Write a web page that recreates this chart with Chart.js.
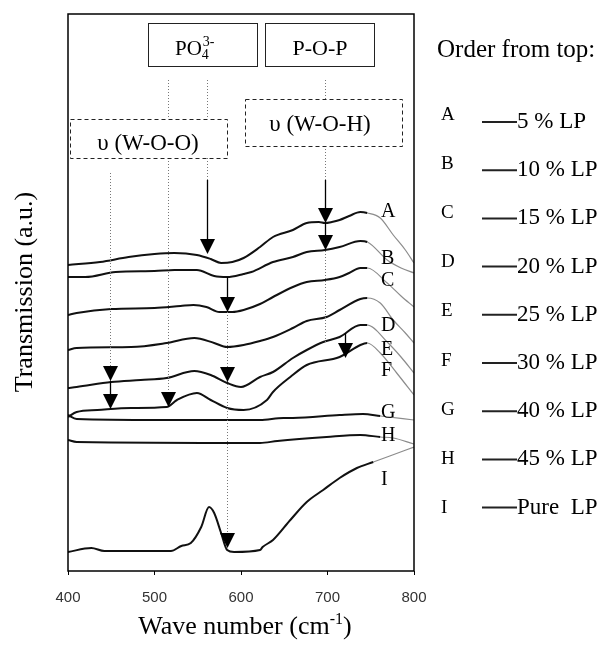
<!DOCTYPE html>
<html>
<head>
<meta charset="utf-8">
<script src="https://cdn.jsdelivr.net/npm/chart.js@4"></script>
<style>
  body { margin: 0; background: #fff; }
  canvas { display: block; }
</style>
</head>
<body>
<canvas id="irChart" width="603" height="646"></canvas>
<script>
// FT-IR transmission spectra, [wave number, transmission (a.u.)]
const curveA = [[400,30.6],[437,30.9],[470,31.4],[500,31.7],[523,31.8],[549,31.6],[565,31.2],[577,30.8],[590,30.9],[603,31.3],[622,32.4],[637,33.4],[660,34.1],[676,34.8],[690,34.9],[697,34.8],[705,34.9],[714,35.1],[725,35.5],[738,35.9],[746,35.8],[761,35.3],[776,33.6],[790,32.1],[800,30.8]];
const curveB = [[400,29.4],[420,29.4],[455,29.9],[500,30.0],[523,30.1],[549,30.1],[569,29.5],[584,29.4],[603,29.7],[612,29.9],[637,30.9],[660,31.4],[676,31.9],[697,32.1],[714,32.4],[738,33.0],[746,32.9],[769,31.1],[785,30.3],[800,29.8]];
const curveC = [[400,25.6],[410,25.8],[450,26.2],[500,26.3],[530,26.5],[545,26.6],[560,26.4],[575,25.9],[590,25.9],[603,26.1],[622,26.7],[637,27.4],[660,28.4],[676,28.9],[697,29.1],[714,29.4],[725,29.8],[738,30.3],[746,30.3],[769,28.8],[785,27.5],[800,26.4]];
const curveD = [[400,22.1],[410,22.3],[473,22.4],[514,22.8],[546,23.3],[569,22.8],[584,22.4],[603,22.6],[622,23.0],[637,23.4],[660,24.3],[676,25.0],[699,25.4],[714,26.1],[738,27.2],[746,27.3],[761,26.8],[776,25.1],[790,23.8],[800,22.8]];
const curveE = [[400,18.3],[410,18.4],[450,18.9],[484,19.1],[514,19.3],[546,20.0],[565,19.6],[584,18.8],[600,18.4],[622,19.4],[637,19.9],[660,21.3],[676,22.1],[695,22.9],[714,23.4],[738,24.6],[746,24.6],[769,22.9],[785,21.4],[800,19.8]];
const curveF = [[400,15.4],[410,15.9],[434,16.1],[473,16.3],[514,16.4],[526,17.1],[549,17.8],[565,17.1],[584,16.3],[603,16.1],[630,17.1],[637,17.9],[657,19.4],[676,20.6],[714,21.4],[738,22.6],[746,22.8],[761,21.8],[780,19.8],[800,17.6]];
const curveG = [[400,15.6],[410,15.2],[506,15.1],[622,15.1],[649,15.3],[660,15.3],[714,15.6],[741,15.7],[761,15.5],[800,15.1]];
const curveH = [[400,13.1],[410,12.9],[622,12.8],[642,13.0],[699,13.4],[738,13.6],[761,13.4],[776,13.3],[800,12.7]];
const curveI = [[400,1.9],[427,2.3],[442,2.0],[519,2.0],[531,2.5],[542,2.8],[554,4.4],[563,6.4],[569,5.8],[577,3.8],[584,2.1],[592,1.9],[622,2.1],[625,2.4],[637,3.1],[657,5.1],[676,6.9],[695,8.1],[714,9.3],[734,10.3],[753,10.9],[772,11.5],[800,12.4]];

const curveLetters = ['A', 'B', 'C', 'D', 'E', 'F', 'G', 'H', 'I'];
const curveContent = ['5 % LP', '10 % LP', '15 % LP', '20 % LP', '25 % LP', '30 % LP', '40 % LP', '45 % LP', 'Pure  LP'];
const curveLetterY = [35.9, 31.2, 29.0, 24.5, 22.1, 20.0, 15.8, 13.5, 9.1];
const waveTicks = [400, 500, 600, 700, 800];

// band-assignment arrows: wave number, tip and tail (a.u.)
const arrowWave = [561, 697, 697, 584, 720, 584, 449, 449, 516, 584];
const arrowTip  = [31.7, 34.8, 32.1, 25.9, 21.3, 18.9, 19.0, 16.2, 16.4, 2.3];
const arrowTail = [39.1, 39.1, 34.8, 29.4, 23.8, 18.9, 19.0, 19.0, 16.4, 2.3];
// dotted guide lines: wave number, top and bottom (a.u.)
const guideWave   = [449, 516, 561, 584, 697];
const guideTop    = [39.8, 49.1, 49.1, 25.9, 49.1];
const guideBottom = [19.0, 16.4, 39.1, 2.3, 22.9];

const serif = '"Liberation Serif", "Times New Roman", serif';
const series = [curveA, curveB, curveC, curveD, curveE, curveF, curveG, curveH, curveI];

const extras = {
  id: 'extras',
  afterDatasetsDraw(chart) {
    const { ctx, chartArea: a, scales: { x, y } } = chart;
    ctx.save();

    // frame
    ctx.strokeStyle = '#000';
    ctx.lineWidth = 1.5;
    ctx.strokeRect(a.left, a.top, a.right - a.left, a.bottom - a.top);

    // guides
    ctx.strokeStyle = '#777';
    ctx.lineWidth = 1;
    ctx.setLineDash([1, 2]);
    guideWave.forEach((w, i) => {
      const px = Math.round(x.getPixelForValue(w)) + 0.5;
      ctx.beginPath();
      ctx.moveTo(px, y.getPixelForValue(guideTop[i]));
      ctx.lineTo(px, y.getPixelForValue(guideBottom[i]));
      ctx.stroke();
    });
    ctx.setLineDash([]);

    // arrows
    ctx.strokeStyle = '#000';
    ctx.fillStyle = '#000';
    ctx.lineWidth = 1.3;
    arrowWave.forEach((w, i) => {
      const px = Math.round(x.getPixelForValue(w)) + 0.5;
      const tip = y.getPixelForValue(arrowTip[i]);
      const tail = y.getPixelForValue(arrowTail[i]);
      if (tip - tail > 15) {
        ctx.beginPath();
        ctx.moveTo(px, tail);
        ctx.lineTo(px, tip - 14);
        ctx.stroke();
      }
      ctx.beginPath();
      ctx.moveTo(px, tip);
      ctx.lineTo(px - 7.5, tip - 15);
      ctx.lineTo(px + 7.5, tip - 15);
      ctx.closePath();
      ctx.fill();
    });

    // label boxes
    ctx.lineWidth = 1;
    ctx.strokeStyle = '#222';
    ctx.fillStyle = '#fff';
    ctx.fillRect(148, 23, 109, 43);
    ctx.strokeRect(148.5, 23.5, 109, 43);
    ctx.fillRect(265, 23, 109, 43);
    ctx.strokeRect(265.5, 23.5, 109, 43);
    ctx.setLineDash([4, 3]);
    ctx.fillRect(70, 119, 157, 39);
    ctx.strokeRect(70.5, 119.5, 157, 39);
    ctx.fillRect(245, 99, 157, 47);
    ctx.strokeRect(245.5, 99.5, 157, 47);
    ctx.setLineDash([]);

    ctx.fillStyle = '#000';
    ctx.textBaseline = 'alphabetic';
    ctx.textAlign = 'left';
    ctx.font = '21px ' + serif;
    ctx.fillText('PO', 175, 55);
    const wPO = ctx.measureText('PO').width;
    ctx.font = '14px ' + serif;
    ctx.fillText('4', 175 + wPO, 59);
    ctx.fillText('3-', 175 + wPO + 1, 46);
    ctx.font = '22px ' + serif;
    ctx.textAlign = 'center';
    ctx.fillText('P-O-P', 320, 55);
    ctx.font = '23px ' + serif;
    ctx.fillText('\u03C5 (W-O-O)', 148, 150);
    ctx.fillText('\u03C5 (W-O-H)', 320, 131);

    // curve letters
    ctx.font = '20px ' + serif;
    ctx.textAlign = 'left';
    ctx.textBaseline = 'middle';
    curveLetters.forEach((c, i) => {
      ctx.fillText(c, 381, y.getPixelForValue(curveLetterY[i]));
    });

    // listing of the samples, top to bottom
    ctx.textBaseline = 'alphabetic';
    ctx.font = '25px ' + serif;
    ctx.fillText('Order from top:', 437, 57);
    curveLetters.forEach((c, i) => {
      const letterBase = 120 + i * 49.1;
      const textBase = 128 + i * 48.2;
      ctx.font = '19px ' + serif;
      ctx.fillText(c, 441, letterBase);
      ctx.beginPath();
      ctx.lineWidth = 2;
      ctx.moveTo(482, textBase - 6);
      ctx.lineTo(517, textBase - 6);
      ctx.stroke();
      ctx.font = '23px ' + serif;
      ctx.fillText(curveContent[i], 517, textBase);
    });

    // axis titles
    ctx.font = '26px ' + serif;
    ctx.textAlign = 'center';
    ctx.textBaseline = 'middle';
    ctx.save();
    ctx.translate(25, 292);
    ctx.rotate(-Math.PI / 2);
    ctx.fillText('Transmission (a.u.)', 0, 0);
    ctx.restore();

    ctx.textBaseline = 'alphabetic';
    const main = 'Wave number (cm';
    const wMain = ctx.measureText(main).width;
    ctx.font = '16px ' + serif;
    const wSup = ctx.measureText('-1').width;
    ctx.font = '26px ' + serif;
    const wEnd = ctx.measureText(')').width;
    const sx = 245 - (wMain + wSup + wEnd) / 2;
    ctx.textAlign = 'left';
    ctx.fillText(main, sx, 634);
    ctx.font = '16px ' + serif;
    ctx.fillText('-1', sx + wMain, 624);
    ctx.font = '26px ' + serif;
    ctx.fillText(')', sx + wMain + wSup, 634);

    ctx.restore();
  }
};

new Chart(document.getElementById('irChart').getContext('2d'), {
  type: 'line',
  data: {
    datasets: series.map((s, i) => ({
      label: curveLetters[i],
      data: s.map(p => ({ x: p[0], y: p[1] })),
      borderColor: '#111',
      borderWidth: 2,
      pointRadius: 0,
      cubicInterpolationMode: 'monotone',
      segment: {
        borderColor: c => c.p0.parsed.x >= 744 ? '#8c8c8c' : '#111',
        borderWidth: c => c.p0.parsed.x >= 744 ? 1.2 : 2
      }
    }))
  },
  options: {
    responsive: false,
    animation: false,
    layout: { padding: { left: 68, right: 189, top: 14, bottom: 35 } },
    plugins: { legend: { display: false }, tooltip: { enabled: false } },
    scales: {
      x: {
        type: 'linear',
        min: 400,
        max: 800,
        afterBuildTicks: axis => { axis.ticks = waveTicks.map(v => ({ value: v })); },
        afterFit: axis => { axis.height = 40; },
        grid: { drawOnChartArea: false, drawTicks: true, tickLength: 4, color: '#000' },
        border: { display: false },
        ticks: {
          padding: 14,
          color: '#333',
          font: { family: '"Liberation Sans", Arial, sans-serif', size: 15 }
        }
      },
      y: {
        display: false,
        min: 0,
        max: 55.7
      }
    }
  },
  plugins: [extras]
});
</script>
</body>
</html>
